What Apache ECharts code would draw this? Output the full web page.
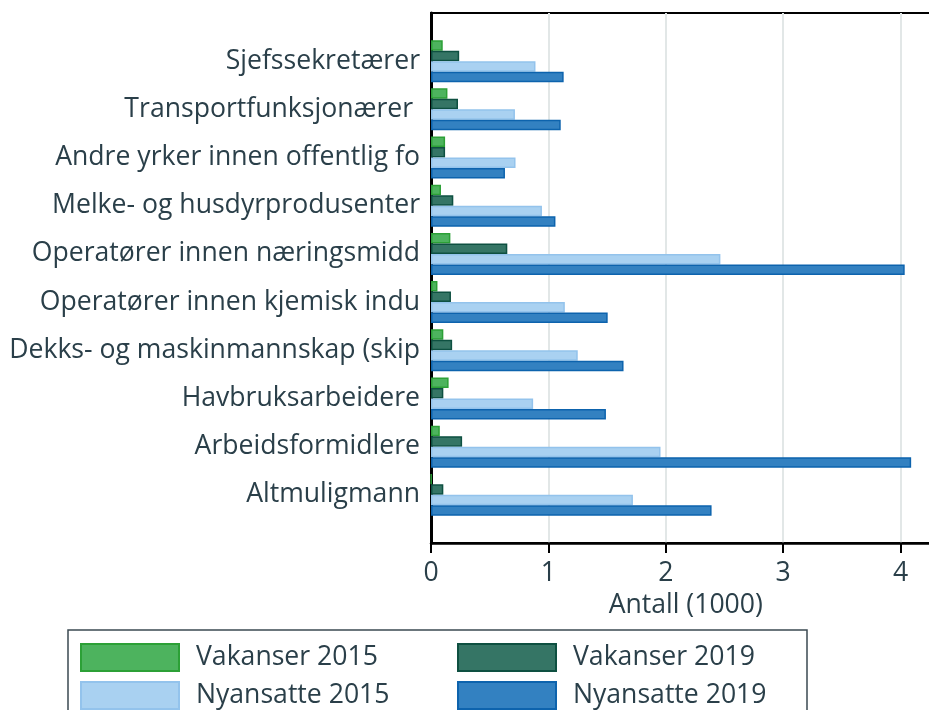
<!DOCTYPE html>
<html>
<head>
<meta charset="utf-8">
<script src="https://cdn.jsdelivr.net/npm/echarts@6/dist/echarts.min.js"></script>
<style>
  html, body { margin: 0; padding: 0; background: #fff; }
  #main { width: 929px; height: 710px; }
</style>
</head>
<body>
<div id="main"></div>
<script>
"use strict"

// yrker (categories), top to bottom
const categories = [
    'Sjefssekretærer',
    'Transportfunksjonærer ',
    'Andre yrker innen offentlig fo',
    'Melke- og husdyrprodusenter',
    'Operatører innen næringsmidd',
    'Operatører innen kjemisk indu',
    'Dekks- og maskinmannskap (skip',
    'Havbruksarbeidere',
    'Arbeidsformidlere',
    'Altmuligmann'
];

// antall i 1000
const vakanser2015 = [0.10, 0.14, 0.12, 0.085, 0.165, 0.055, 0.105, 0.15, 0.075, 0.003];
const vakanser2019 = [0.24, 0.23, 0.12, 0.19, 0.65, 0.17, 0.18, 0.105, 0.265, 0.105];
const nyansatte2015 = [0.89, 0.715, 0.72, 0.945, 2.465, 1.14, 1.25, 0.87, 1.955, 1.72];
const nyansatte2019 = [1.13, 1.105, 0.63, 1.06, 4.035, 1.505, 1.64, 1.49, 4.09, 2.39];

const xTicks = [0, 1, 2, 3, 4];

const textColor = '#2a3f49';
const fontFamily = "'Open Sans', 'Noto Sans', sans-serif";
const fontSize = 26.6;

let chart = echarts.init(document.getElementById('main'), null, { renderer: 'canvas' });

// one empty slot above and below, like the plot's padding
function padded(arr) {
    return [null].concat(arr, [null]);
}

function makeSeries(name, values, fill, border) {
    return {
        name: name,
        type: 'bar',
        data: padded(values),
        barWidth: 10.5,
        barGap: '0%',
        itemStyle: {
            color: fill,
            borderColor: border,
            borderWidth: 1.5
        },
        emphasis: { disabled: true }
    };
}

const legendText = {
    color: textColor,
    fontSize: fontSize,
    fontFamily: fontFamily,
    lineHeight: 28,
    padding: [0, 0, 0, 12]
};

let option = {
    backgroundColor: '#fff',
    animation: false,
    grid: {
        left: 431,
        top: 13,
        bottom: 167,
        width: 509.5,
        show: true,
        borderColor: '#000',
        borderWidth: 2,
        containLabel: false,
        outerBoundsMode: 'none'
    },
    xAxis: {
        type: 'value',
        min: xTicks[0],
        max: 4.34,
        interval: 1,
        name: 'Antall (1000)',
        nameLocation: 'middle',
        nameGap: 46,
        nameTextStyle: { color: textColor, fontSize: fontSize, fontFamily: fontFamily },
        axisLine: { show: true, lineStyle: { color: '#000', width: 2.5 } },
        axisTick: { show: true, length: 10, lineStyle: { color: '#000', width: 2 } },
        axisLabel: {
            color: textColor,
            fontSize: fontSize,
            fontFamily: fontFamily,
            margin: 17,
            showMaxLabel: false,
            formatter: function (v) {
                return xTicks.indexOf(v) >= 0 ? String(v) : '';
            }
        },
        splitLine: { show: true, lineStyle: { color: '#e2e7e7', width: 2 } }
    },
    yAxis: {
        type: 'category',
        inverse: true,
        boundaryGap: false,
        data: [''].concat(categories, ['']),
        axisLine: { show: true, lineStyle: { color: '#000', width: 3 } },
        axisTick: { show: false },
        axisLabel: {
            color: textColor,
            fontSize: fontSize,
            fontFamily: fontFamily,
            margin: 11,
            interval: 0
        },
        splitLine: { show: false }
    },
    legend: {
        left: 68,
        top: 630,
        orient: 'horizontal',
        width: 720,
        padding: [13, 14, 30, 12],
        itemGap: 9,
        itemWidth: 98,
        itemHeight: 27,
        icon: 'rect',
        borderColor: '#3b4a52',
        borderWidth: 1.5,
        selectedMode: false,
        textStyle: legendText,
        data: [
            { name: 'Vakanser 2015', textStyle: { width: 252 } },
            { name: 'Vakanser 2019', textStyle: { width: 220 } },
            { name: 'Nyansatte 2015', textStyle: { width: 252 } },
            { name: 'Nyansatte 2019', textStyle: { width: 220 } }
        ]
    },
    series: [
        makeSeries('Vakanser 2015', vakanser2015, '#4db35e', '#2ca036'),
        makeSeries('Vakanser 2019', vakanser2019, '#357565', '#0e5041'),
        makeSeries('Nyansatte 2015', nyansatte2015, '#a9d1f1', '#93c3ec'),
        makeSeries('Nyansatte 2019', nyansatte2019, '#3381c1', '#0d63ad')
    ]
};

chart.setOption(option);
</script>
</body>
</html>
